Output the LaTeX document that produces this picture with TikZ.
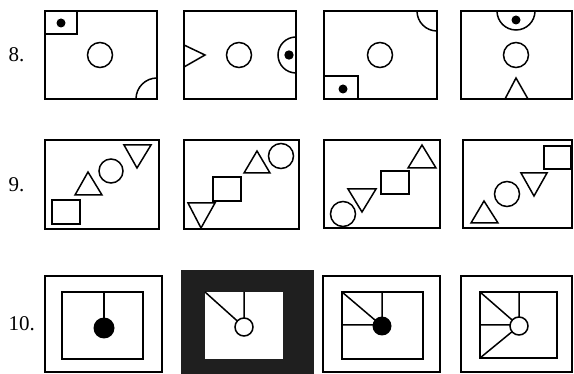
\documentclass[tikz,border=0pt]{standalone}
\usepackage{fontspec}
\setmainfont{Liberation Serif}
\usepackage{tikz}
\usetikzlibrary{positioning}

\begin{document}
\begin{tikzpicture}[x=1pt,y=-1pt,
                frm/.style={line width=1.8pt},
                pc/.style={line width=1.5pt},
                dot/.style={fill=black},
                num/.style={anchor=west,font=\fontsize{21}{21}\selectfont}]
                \useasboundingbox (0,0) rectangle (574,374);
                \foreach \y/\n in {55/8,185/9,324/10}
                \node[num] (q\n) at (5,\y) {\n.};
                \draw[frm] (45,11) rectangle (157,99);
                \draw[pc] (45,11) rectangle (77,34);
                \fill[dot] (61,23) circle[radius=4.5];
                \draw[pc] (100,55) circle[radius=12.5];
                \draw[pc] (136,99) arc[start angle=180,end angle=270,radius=21];
                \draw[frm] (184,11) rectangle (296,99);
                \draw[pc] (184,45) -- (205,55) -- (184,67);
                \draw[pc] (239,55) circle[radius=12.5];
                \draw[pc] (296,37) arc[start angle=270,end angle=90,radius=18];
                \fill[dot] (289,55) circle[radius=4.7];
                \draw[frm] (324,11) rectangle (437,99);
                \draw[pc] (417,11) arc[start angle=180,end angle=90,radius=20];
                \draw[pc] (324,76) rectangle (358,99);
                \fill[dot] (343,89) circle[radius=4.5];
                \draw[pc] (380,55) circle[radius=12.5];
                \draw[frm] (461,11) rectangle (572,99);
                \draw[pc] (497,11) arc[start angle=180,end angle=0,radius=19];
                \fill[dot] (516,20) circle[radius=4.5];
                \draw[pc] (516,55) circle[radius=12.5];
                \draw[pc] (505,99) -- (516,78) -- (528,99);
                \draw[frm] (45,140) rectangle (159,229);
                \draw[pc] (52,200) rectangle (80,224);
                \draw[pc] (75,195) -- (88,172) -- (102,195) -- cycle;
                \draw[pc] (111,171) circle[radius=12];
                \draw[pc] (124,145) -- (151,145) -- (137,168) -- cycle;
                \draw[frm] (184,140) rectangle (299,229);
                \draw[pc] (188,203) -- (215,203) -- (201,228) -- cycle;
                \draw[pc] (213,177) rectangle (241,201);
                \draw[pc] (244,173) -- (257,151) -- (270,173) -- cycle;
                \draw[pc] (281,156) circle[radius=12.5];
                \draw[frm] (324,140) rectangle (440,228);
                \draw[pc] (343,214) circle[radius=12.5];
                \draw[pc] (348,189) -- (376,189) -- (362,212) -- cycle;
                \draw[pc] (381,171) rectangle (409,194);
                \draw[pc] (408,168) -- (422,145) -- (436,168) -- cycle;
                \draw[frm] (463,140) rectangle (572,228);
                \draw[pc] (471,223) -- (484,201) -- (498,223) -- cycle;
                \draw[pc] (507,194) circle[radius=12.5];
                \draw[pc] (521,173) -- (547,173) -- (534,196) -- cycle;
                \draw[pc] (544,146) rectangle (571,169);
                \draw[frm] (45,276) rectangle (162,372);
                \draw[pc] (62,292) rectangle (143,359);
                \draw[pc] (104,292) -- (104,328);
                \fill[dot] (104,328) circle[radius=10.5];
                \fill[black!88] (181,270) rectangle (314,374);
                \fill[white] (205,292) rectangle (283,359);
                \draw[pc] (244,292) -- (244,327) (205,292) -- (244,327);
                \draw[pc,fill=white] (244,327) circle[radius=9];
                \draw[frm] (323,276) rectangle (440,372);
                \draw[pc] (342,292) rectangle (423,359);
                \draw[pc] (382,292) -- (382,326) (342,325) -- (382,325) (342,292) -- (382,326);
                \fill[dot] (382,326) circle[radius=9.5];
                \draw[frm] (461,276) rectangle (572,372);
                \draw[pc] (480,292) rectangle (557,358);
                \draw[pc] (519,292) -- (519,326) (480,325) -- (519,325)
                (480,292) -- (519,326) (480,358) -- (519,326);
                \draw[pc,fill=white] (519,326) circle[radius=9];
            \end{tikzpicture}
\end{document}
